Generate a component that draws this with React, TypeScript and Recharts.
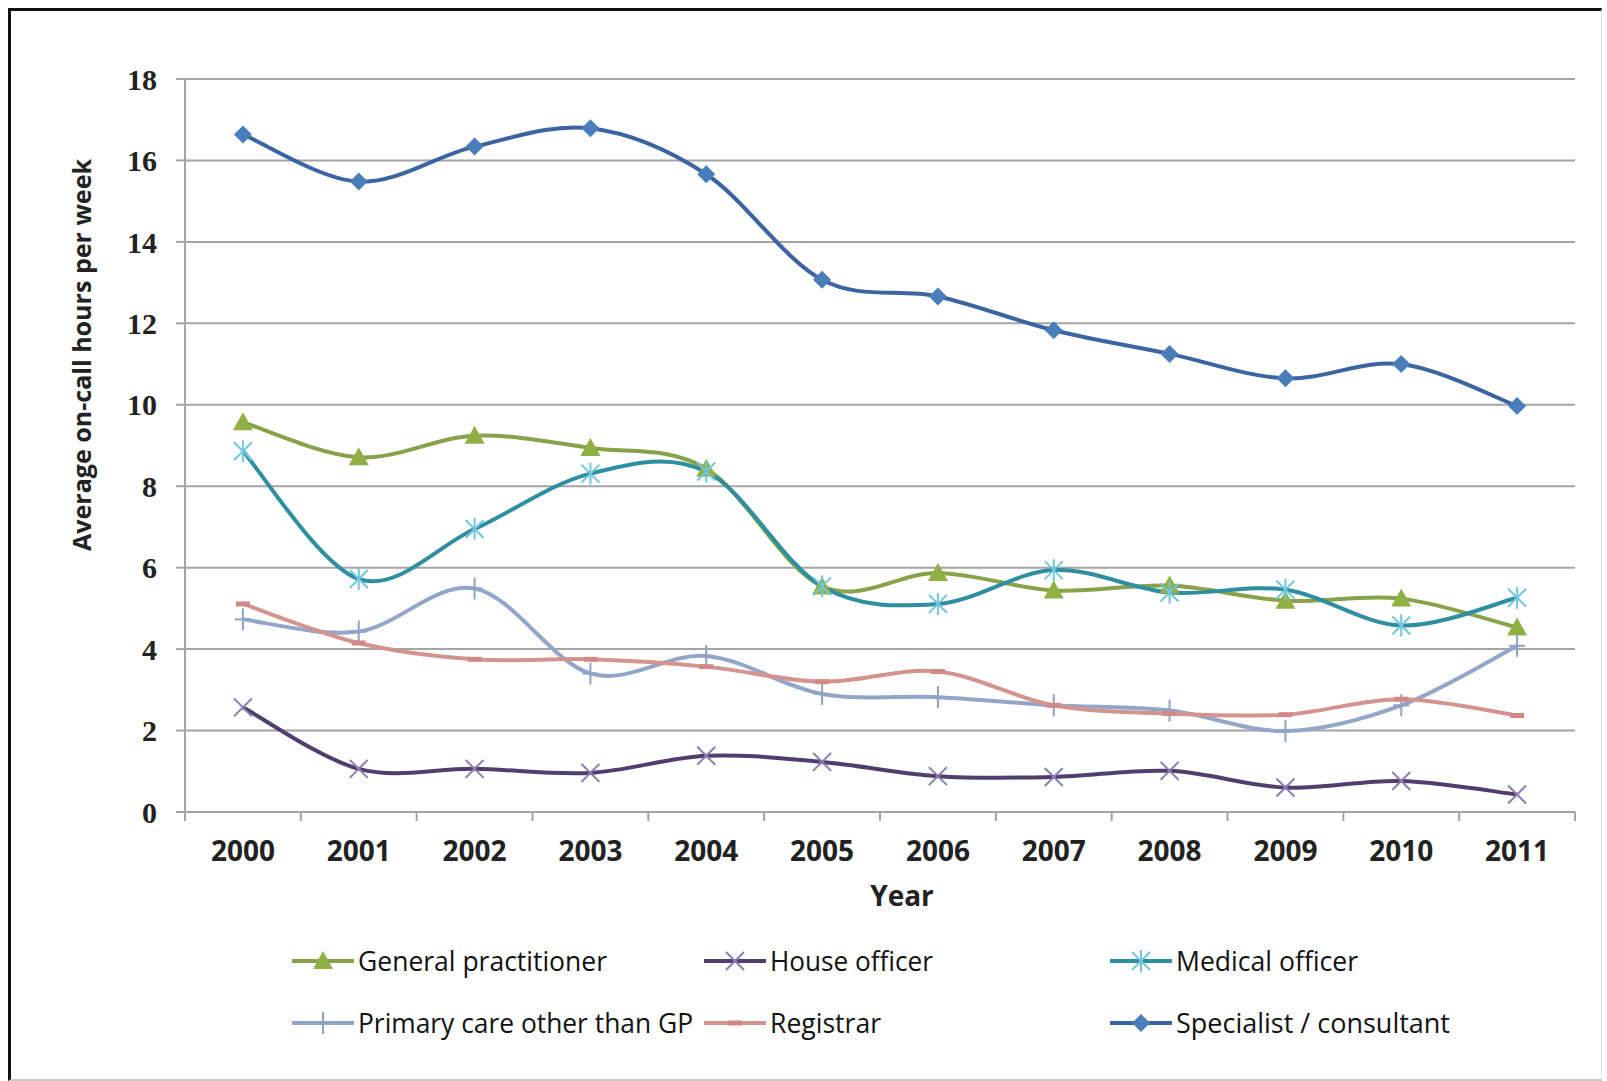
import React from "react";
import { LineChart, Line, XAxis, YAxis, CartesianGrid } from "recharts";

// ── Data ────────────────────────────────────────────────────────────
const YEARS = ["2000", "2001", "2002", "2003", "2004", "2005", "2006", "2007", "2008", "2009", "2010", "2011"];
const Y_TICKS = [0, 2, 4, 6, 8, 10, 12, 14, 16, 18];

const GENERAL_PRACTITIONER = [9.57, 8.71, 9.24, 8.94, 8.43, 5.54, 5.87, 5.44, 5.56, 5.19, 5.24, 4.53];
const HOUSE_OFFICER = [2.57, 1.06, 1.06, 0.96, 1.38, 1.23, 0.88, 0.86, 1.01, 0.6, 0.76, 0.43];
const MEDICAL_OFFICER = [8.86, 5.72, 6.95, 8.31, 8.36, 5.54, 5.11, 5.94, 5.39, 5.46, 4.58, 5.26];
const PRIMARY_CARE = [4.73, 4.43, 5.49, 3.4, 3.83, 2.9, 2.82, 2.62, 2.49, 1.99, 2.62, 4.08];
const REGISTRAR = [5.11, 4.15, 3.75, 3.75, 3.57, 3.2, 3.45, 2.62, 2.42, 2.39, 2.77, 2.37];
const SPECIALIST = [16.64, 15.48, 16.34, 16.79, 15.66, 13.07, 12.66, 11.83, 11.25, 10.65, 11.0, 9.97];

type MarkerKind = "triangle" | "cross" | "star" | "plus" | "dash" | "diamond";

const SERIES: { key: string; name: string; values: number[]; stroke: string; mark: string; marker: MarkerKind }[] = [
  { key: "gp", name: "General practitioner", values: GENERAL_PRACTITIONER, stroke: "#87A24B", mark: "#8FB043", marker: "triangle" },
  { key: "house", name: "House officer", values: HOUSE_OFFICER, stroke: "#4F3F6E", mark: "#8C7CB0", marker: "cross" },
  { key: "medical", name: "Medical officer", values: MEDICAL_OFFICER, stroke: "#2F8E9F", mark: "#72C6DC", marker: "star" },
  { key: "primary", name: "Primary care other than GP", values: PRIMARY_CARE, stroke: "#93A6C8", mark: "#8EA2C6", marker: "plus" },
  { key: "registrar", name: "Registrar", values: REGISTRAR, stroke: "#D3948F", mark: "#D08A85", marker: "dash" },
  { key: "specialist", name: "Specialist / consultant", values: SPECIALIST, stroke: "#3C64A0", mark: "#4A7EBB", marker: "diamond" },
];

// legend grid: 3 columns x 2 rows
const LEGEND_COLS = [292, 704, 1110];
const LEGEND_ROWS = [961, 1023];
const LEGEND_TEXT_WIDTH: Record<string, number> = {
  gp: 249,
  house: 163,
  medical: 182,
  primary: 335,
  registrar: 111,
  specialist: 274,
};

const rows = YEARS.map((year, i) => {
  const row: Record<string, string | number> = { year };
  SERIES.forEach((s) => (row[s.key] = s.values[i]));
  return row;
});

const SANS = "'Open Sans', 'Noto Sans', sans-serif";
const SERIF = "'Liberation Serif', 'DejaVu Serif', serif";
const GRID = "#A4A4A4";

// Excel-style smoothing: cubic Bezier segments with Catmull-Rom tangents
const excelSmooth = (context: any) => {
  let pts: [number, number][] = [];
  return {
    areaStart() {},
    areaEnd() {},
    lineStart() {
      pts = [];
    },
    point(x: number, y: number) {
      pts.push([+x, +y]);
    },
    lineEnd() {
      const n = pts.length;
      if (!n) return;
      context.moveTo(pts[0][0], pts[0][1]);
      for (let i = 0; i < n - 1; i++) {
        const p0 = pts[Math.max(i - 1, 0)];
        const p1 = pts[i];
        const p2 = pts[i + 1];
        const p3 = pts[Math.min(i + 2, n - 1)];
        context.bezierCurveTo(
          p1[0] + (p2[0] - p0[0]) / 6,
          p1[1] + (p2[1] - p0[1]) / 6,
          p2[0] - (p3[0] - p1[0]) / 6,
          p2[1] - (p3[1] - p1[1]) / 6,
          p2[0],
          p2[1]
        );
      }
    },
  };
};

function Marker({ kind, cx, cy, color }: { kind: MarkerKind; cx: number; cy: number; color: string }) {
  switch (kind) {
    case "diamond":
      return <polygon points={`${cx},${cy - 9} ${cx + 9},${cy} ${cx},${cy + 9} ${cx - 9},${cy}`} fill={color} />;
    case "triangle":
      return <polygon points={`${cx},${cy - 10} ${cx + 10},${cy + 8} ${cx - 10},${cy + 8}`} fill={color} />;
    case "cross":
      return (
        <g stroke={color} strokeWidth={2}>
          <line x1={cx - 9} y1={cy - 9} x2={cx + 9} y2={cy + 9} />
          <line x1={cx - 9} y1={cy + 9} x2={cx + 9} y2={cy - 9} />
        </g>
      );
    case "star":
      return (
        <g stroke={color} strokeWidth={2}>
          <line x1={cx - 9} y1={cy - 9} x2={cx + 9} y2={cy + 9} />
          <line x1={cx - 9} y1={cy + 9} x2={cx + 9} y2={cy - 9} />
          <line x1={cx} y1={cy - 11} x2={cx} y2={cy + 11} />
        </g>
      );
    case "plus":
      return (
        <g stroke={color} strokeWidth={2}>
          <line x1={cx} y1={cy - 11} x2={cx} y2={cy + 11} />
          <line x1={cx - 8} y1={cy} x2={cx + 8} y2={cy} />
        </g>
      );
    case "dash":
      return <line x1={cx - 7} y1={cy} x2={cx + 7} y2={cy} stroke={color} strokeWidth={5} />;
  }
}

// category label with the tick mark drawn on the band boundary
function YearTick(props: any) {
  const { x, y, payload, index, visibleTicksCount } = props;
  const half = payload?.offset ?? 0;
  const last = index === (visibleTicksCount ?? YEARS.length) - 1;
  return (
    <g>
      <line x1={x - half} y1={y - 9} x2={x - half} y2={y} stroke={GRID} strokeWidth={2} />
      {last && <line x1={x + half} y1={y - 9} x2={x + half} y2={y} stroke={GRID} strokeWidth={2} />}
      <text x={x} y={y + 40} textAnchor="middle" fontFamily={SANS} fontWeight={700} fontSize={28} fill="#222">
        {payload.value}
      </text>
    </g>
  );
}

export default function App() {
  return (
    <div style={{ position: "relative", width: 1607, height: 1081, background: "#fff", overflow: "hidden" }}>
      <style>{`body{margin:0}`}</style>
      <div
        style={{
          position: "absolute",
          left: 8,
          top: 8,
          width: 1590,
          height: 1068,
          borderTop: "3px solid #111",
          borderLeft: "3px solid #111",
          borderRight: "1px solid #e2e2e2",
          borderBottom: "2px solid #c8c8c8",
        }}
      />
      <LineChart
        width={1607}
        height={1081}
        data={rows}
        margin={{ top: 79, right: 32, bottom: 229, left: 125 }}
        style={{ position: "absolute", left: 0, top: 0 }}
      >
        <CartesianGrid vertical={false} stroke={GRID} strokeWidth={2} />
        <XAxis
          dataKey="year"
          scale="band"
          height={40}
          tickSize={9}
          tickMargin={0}
          tickLine={false}
          axisLine={{ stroke: GRID, strokeWidth: 2 }}
          tick={<YearTick />}
          interval={0}
        />
        <YAxis
          width={60}
          domain={[0, 18]}
          ticks={Y_TICKS}
          interval={0}
          tickSize={9}
          tickMargin={19}
          tickLine={{ stroke: GRID, strokeWidth: 2 }}
          axisLine={{ stroke: GRID, strokeWidth: 2 }}
          tick={{ fill: "#222", fontSize: 30, fontFamily: SERIF, fontWeight: 700 }}
        />
        {SERIES.map((s) => (
          <Line
            key={s.key}
            dataKey={s.key}
            name={s.name}
            type={excelSmooth as any}
            stroke={s.stroke}
            strokeWidth={4}
            isAnimationActive={false}
            dot={(p: any) => <Marker key={`${s.key}-${p.index}`} kind={s.marker} cx={p.cx} cy={p.cy} color={s.mark} />}
            activeDot={false}
          />
        ))}
      </LineChart>

      {/* axis titles and legend */}
      <svg width={1607} height={1081} style={{ position: "absolute", left: 0, top: 0, pointerEvents: "none" }}>
        <text
          transform="translate(91, 355) rotate(-90)"
          textAnchor="middle"
          fontFamily={SANS}
          fontWeight={700}
          fontSize={25}
          fill="#222"
          textLength={392}
          lengthAdjust="spacingAndGlyphs"
        >
          Average on-call hours per week
        </text>
        <text x={902} y={906} textAnchor="middle" fontFamily={SANS} fontWeight={700} fontSize={28} fill="#222">
          Year
        </text>
        {SERIES.map((s, i) => {
          const x = LEGEND_COLS[i % 3];
          const y = LEGEND_ROWS[Math.floor(i / 3)];
          return (
            <g key={s.key}>
              <line x1={x} y1={y} x2={x + 62} y2={y} stroke={s.stroke} strokeWidth={4} />
              <Marker kind={s.marker} cx={x + 31} cy={y} color={s.mark} />
              <text
                x={x + 66}
                y={y + 10}
                fontFamily={SANS}
                fontSize={28}
                fill="#111"
                textLength={LEGEND_TEXT_WIDTH[s.key]}
                lengthAdjust="spacingAndGlyphs"
              >
                {s.name}
              </text>
            </g>
          );
        })}
      </svg>
    </div>
  );
}
